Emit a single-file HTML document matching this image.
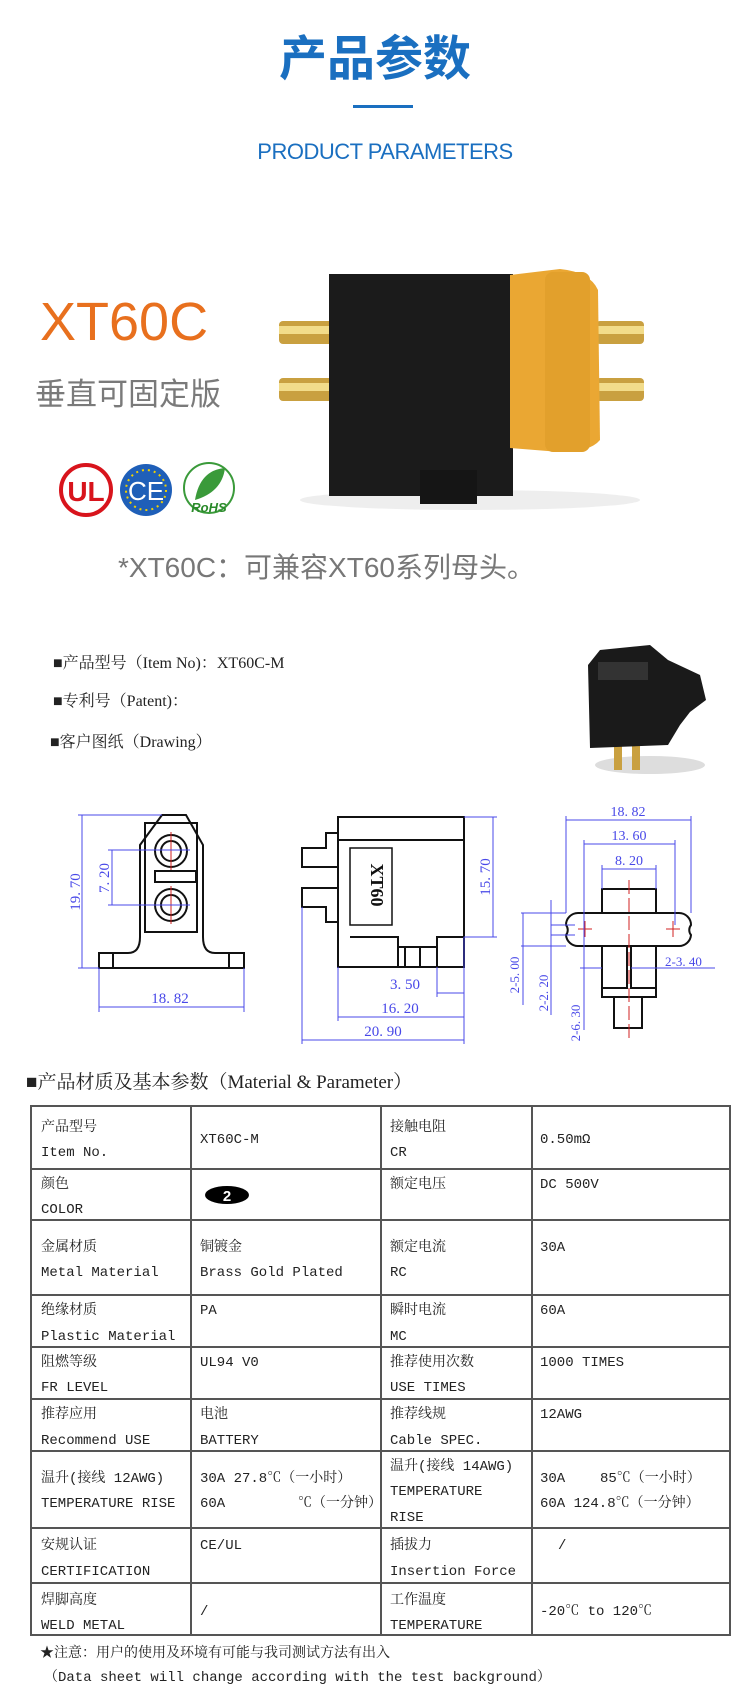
<!DOCTYPE html>
<html><head><meta charset="utf-8">
<style>
html,body{margin:0;padding:0;background:#fff;}
body{width:750px;height:1700px;position:relative;overflow:hidden;}
.a{position:absolute;white-space:nowrap;}
</style></head><body>
<div class="a" style="left:0;width:750px;top:24px;text-align:center;font:bold 48px 'Noto Sans CJK SC',sans-serif;color:#1a6fc0;line-height:60px;">产品参数</div>
<div class="a" style="left:353px;top:105px;width:60px;height:3px;background:#1a6fc0;"></div>
<div class="a" style="left:257px;top:138px;width:256px;text-align:center;font:22px 'Liberation Sans',sans-serif;color:#1a6fc0;line-height:28px;letter-spacing:-0.5px;">PRODUCT PARAMETERS</div>
<div class="a" style="left:40px;top:290px;font:54px 'Liberation Sans',sans-serif;color:#e8701e;line-height:64px;">XT60C</div>
<div class="a" style="left:35px;top:372px;font:31px 'Noto Sans CJK SC',sans-serif;color:#7a7a7a;line-height:40px;">垂直可固定版</div>
<div class="a" style="left:118px;top:550px;font:28px 'Liberation Sans','Noto Sans CJK SC',sans-serif;color:#777;line-height:36px;">*XT60C：可兼容XT60系列母头。</div>

<svg class="a" style="left:0;top:0" width="750" height="1700" xmlns="http://www.w3.org/2000/svg">
<!-- logos -->
<circle cx="86" cy="490" r="25" fill="#fff" stroke="#d8141c" stroke-width="4"/>
<text x="86" y="501" font-family="Liberation Sans" font-weight="bold" font-size="28" fill="#d8141c" text-anchor="middle">UL</text>
<circle cx="146" cy="490" r="26" fill="#1f5fb8"/>
<circle cx="146" cy="490" r="20" fill="none" stroke="#f0d000" stroke-width="2" stroke-dasharray="2 4"/>
<text x="146" y="500" font-family="Liberation Sans" font-size="26" fill="#fff" text-anchor="middle">CE</text>
<circle cx="209" cy="488" r="25" fill="#fff" stroke="#3a9a3a" stroke-width="2"/>
<path d="M195 500 Q200 470 225 468 Q222 492 195 500Z" fill="#3a9a3a"/>
<text x="209" y="512" font-family="Liberation Sans" font-weight="bold" font-style="italic" font-size="13" fill="#2a8a2a" text-anchor="middle">RoHS</text>
<!-- product photo -->
<ellipse cx="470" cy="500" rx="170" ry="10" fill="#eee"/>
<rect x="279" y="321" width="55" height="23" rx="4" fill="#c9a040"/>
<rect x="279" y="326" width="55" height="8" fill="#f2dc8a"/>
<rect x="279" y="378" width="55" height="23" rx="4" fill="#c9a040"/>
<rect x="279" y="383" width="55" height="8" fill="#f2dc8a"/>
<rect x="596" y="321" width="48" height="23" rx="4" fill="#c9a040"/>
<rect x="596" y="326" width="48" height="8" fill="#f2dc8a"/>
<rect x="596" y="378" width="48" height="23" rx="4" fill="#c9a040"/>
<rect x="596" y="383" width="48" height="8" fill="#f2dc8a"/>
<rect x="329" y="274" width="184" height="222" fill="#1b1b1b"/>
<rect x="420" y="470" width="57" height="34" fill="#151515"/>
<path d="M510 275 L560 269 Q590 272 598 290 L600 440 Q590 452 560 452 L510 448Z" fill="#eaa733"/>
<rect x="545" y="272" width="45" height="180" rx="8" fill="#e2a02c"/>
<!-- item lines -->
</svg>

<div class="a" style="left:53px;top:652px;font:16px 'Liberation Serif','Noto Serif CJK SC',serif;color:#222;line-height:24px;">■产品型号（Item No)：XT60C-M</div>
<div class="a" style="left:53px;top:690px;font:16px 'Liberation Serif','Noto Serif CJK SC',serif;color:#222;line-height:24px;">■专利号（Patent)：</div>
<div class="a" style="left:50px;top:731px;font:16px 'Liberation Serif','Noto Serif CJK SC',serif;color:#222;line-height:24px;">■客户图纸（Drawing）</div>

<svg class="a" style="left:0;top:0" width="750" height="1700" xmlns="http://www.w3.org/2000/svg">
<!-- small connector -->
<ellipse cx="650" cy="765" rx="55" ry="9" fill="#ddd"/>
<rect x="614" y="745" width="8" height="25" fill="#c9a040"/>
<rect x="632" y="745" width="8" height="25" fill="#c9a040"/>
<path d="M588 665 L600 650 L650 645 L668 660 L700 675 L706 700 L690 712 L680 725 L668 745 L590 748Z" fill="#1a1a1a"/>
<rect x="598" y="662" width="50" height="18" fill="#333"/>

<!-- drawing black -->
<g fill="none" stroke="#111" stroke-width="2">
<path d="M140 937 L140 845 L162 815 L186 815 L203 845 L203 937 Q203 953 215 953 L244 953 L244 968 L99 968 L99 953 L128 953 Q140 953 140 937Z"/>
<rect x="145" y="823" width="52" height="109"/>
<line x1="113" y1="953" x2="113" y2="968"/><line x1="229" y1="953" x2="229" y2="968"/>
<circle cx="171" cy="851" r="16"/><circle cx="171" cy="851" r="10"/>
<circle cx="171" cy="905" r="16"/><circle cx="171" cy="905" r="10"/>
<rect x="155" y="871" width="41" height="11"/>
<!-- middle -->
<rect x="338" y="817" width="126" height="150"/>
<line x1="338" y1="840" x2="464" y2="840"/>
<path d="M338 833 L326 833 L326 848 L302 848 L302 867 L338 867"/>
<path d="M338 888 L302 888 L302 907 L326 907 L326 922 L338 922"/>
<rect x="350" y="848" width="42" height="77" stroke-width="1.5"/>
<path d="M350 937 L398 937 L398 967 M398 947 L437 947 L437 937 L464 937 M405 947 L405 967 M420 947 L420 967 M437 947 L437 967"/>
<!-- right -->
<rect x="602" y="889" width="54" height="24"/>
<path d="M578 913 L679 913 A12 12 0 0 1 691 925 A8 8 0 0 0 691 935 A12 12 0 0 1 679 946 L578 946 A12 12 0 0 1 566 935 A8 8 0 0 0 566 925 A12 12 0 0 1 578 913Z"/>
<path d="M602 946 L602 997 L656 997 L656 946 M627 946 L627 988 L602 988 M631 946 L631 988 L656 988"/>
<rect x="614" y="997" width="28" height="31"/>
</g>
<g fill="#111" font-family="Liberation Serif" font-size="11">
<text x="371" y="885" transform="rotate(90 371 885)" text-anchor="middle" font-weight="bold" font-size="18">XT60</text>
</g>
<g stroke="#d02020" stroke-width="1" fill="none">
<line x1="171" y1="832" x2="171" y2="870"/><line x1="171" y1="886" x2="171" y2="924"/>
<line x1="629" y1="880" x2="629" y2="1040" stroke-dasharray="14 4"/>
<line x1="578" y1="929" x2="592" y2="929"/><line x1="585" y1="921" x2="585" y2="937"/>
<line x1="666" y1="929" x2="680" y2="929"/><line x1="673" y1="921" x2="673" y2="937"/>
</g>
<!-- dims blue -->
<g stroke="#4848e8" stroke-width="1" fill="none">
<line x1="82" y1="815" x2="82" y2="968"/><line x1="78" y1="815" x2="162" y2="815"/><line x1="78" y1="968" x2="99" y2="968"/>
<line x1="112" y1="850" x2="112" y2="905"/><line x1="108" y1="850" x2="190" y2="850"/><line x1="108" y1="905" x2="190" y2="905"/>
<line x1="99" y1="1007" x2="244" y2="1007"/><line x1="99" y1="968" x2="99" y2="1012"/><line x1="244" y1="968" x2="244" y2="1012"/>
<line x1="493" y1="817" x2="493" y2="937"/><line x1="464" y1="817" x2="497" y2="817"/><line x1="464" y1="937" x2="497" y2="937"/>
<line x1="437" y1="993" x2="464" y2="993"/><line x1="437" y1="967" x2="437" y2="997"/>
<line x1="338" y1="1017" x2="464" y2="1017"/><line x1="338" y1="967" x2="338" y2="1021"/>
<line x1="302" y1="1040" x2="464" y2="1040"/><line x1="302" y1="907" x2="302" y2="1044"/><line x1="464" y1="937" x2="464" y2="1044"/>
<line x1="566" y1="820" x2="691" y2="820"/><line x1="566" y1="816" x2="566" y2="913"/><line x1="691" y1="816" x2="691" y2="913"/>
<line x1="584" y1="844" x2="675" y2="844"/><line x1="584" y1="840" x2="584" y2="1030"/><line x1="675" y1="840" x2="675" y2="925"/>
<line x1="602" y1="869" x2="656" y2="869"/><line x1="602" y1="865" x2="602" y2="889"/><line x1="656" y1="865" x2="656" y2="889"/>
<line x1="521" y1="913" x2="566" y2="913"/><line x1="521" y1="946" x2="566" y2="946"/><line x1="523" y1="913" x2="523" y2="1005"/>
<line x1="551" y1="925" x2="575" y2="925"/><line x1="551" y1="935" x2="575" y2="935"/><line x1="551" y1="900" x2="551" y2="1015"/>
<line x1="580" y1="968" x2="602" y2="968"/><line x1="631" y1="968" x2="715" y2="968"/>
</g>
<g fill="#4848e8" font-family="Liberation Serif" font-size="15">
<text x="80" y="892" transform="rotate(-90 80 892)" text-anchor="middle">19. 70</text>
<text x="109" y="878" transform="rotate(-90 109 878)" text-anchor="middle">7. 20</text>
<text x="170" y="1003" text-anchor="middle">18. 82</text>
<text x="490" y="877" transform="rotate(-90 490 877)" text-anchor="middle">15. 70</text>
<text x="405" y="989" text-anchor="middle">3. 50</text>
<text x="400" y="1013" text-anchor="middle">16. 20</text>
<text x="383" y="1036" text-anchor="middle">20. 90</text>
<text x="628" y="816" text-anchor="middle" font-size="14">18. 82</text>
<text x="629" y="840" text-anchor="middle" font-size="14">13. 60</text>
<text x="629" y="865" text-anchor="middle" font-size="14">8. 20</text>
<text x="519" y="975" transform="rotate(-90 519 975)" text-anchor="middle" font-size="13">2-5. 00</text>
<text x="548" y="993" transform="rotate(-90 548 993)" text-anchor="middle" font-size="13">2-2. 20</text>
<text x="580" y="1023" transform="rotate(-90 580 1023)" text-anchor="middle" font-size="13">2-6. 30</text>
<text x="665" y="966" font-size="13">2-3. 40</text>
</g>

<!-- table -->
<text x="26" y="1088" font-family="Liberation Serif, Noto Serif CJK SC" font-size="19" fill="#222">■产品材质及基本参数（Material &amp; Parameter）</text>
<g stroke="#555" stroke-width="2" fill="none">
<rect x="31" y="1106" width="699" height="529"/>
<line x1="191" y1="1106" x2="191" y2="1635"/><line x1="381" y1="1106" x2="381" y2="1635"/><line x1="532" y1="1106" x2="532" y2="1635"/>
<line x1="31" y1="1169" x2="730" y2="1169"/><line x1="31" y1="1220" x2="730" y2="1220"/><line x1="31" y1="1295" x2="730" y2="1295"/>
<line x1="31" y1="1347" x2="730" y2="1347"/><line x1="31" y1="1399" x2="730" y2="1399"/><line x1="31" y1="1451" x2="730" y2="1451"/>
<line x1="31" y1="1528" x2="730" y2="1528"/><line x1="31" y1="1583" x2="730" y2="1583"/>
</g>
<ellipse cx="227" cy="1195" rx="22" ry="9" fill="#000"/>
<text x="227" y="1201" font-family="Liberation Sans" font-weight="bold" font-size="15" fill="#fff" text-anchor="middle">2</text>
<g font-family="Liberation Mono, Noto Serif CJK SC, monospace" font-size="14" fill="#222">
<text x="41" y="1131">产品型号</text><text x="41" y="1156">Item No.</text>
<text x="200" y="1143">XT60C-M</text>
<text x="390" y="1131">接触电阻</text><text x="390" y="1156">CR</text>
<text x="540" y="1143">0.50mΩ</text>
<text x="41" y="1188">颜色</text><text x="41" y="1213">COLOR</text>
<text x="390" y="1188">额定电压</text><text x="540" y="1188">DC 500V</text>
<text x="41" y="1251">金属材质</text><text x="41" y="1276">Metal Material</text>
<text x="200" y="1251">铜镀金</text><text x="200" y="1276">Brass Gold Plated</text>
<text x="390" y="1251">额定电流</text><text x="390" y="1276">RC</text><text x="540" y="1251">30A</text>
<text x="41" y="1314">绝缘材质</text><text x="41" y="1340">Plastic Material</text>
<text x="200" y="1314">PA</text>
<text x="390" y="1314">瞬时电流</text><text x="390" y="1340">MC</text><text x="540" y="1314">60A</text>
<text x="41" y="1366">阻燃等级</text><text x="41" y="1391">FR LEVEL</text>
<text x="200" y="1366">UL94 V0</text>
<text x="390" y="1366">推荐使用次数</text><text x="390" y="1391">USE TIMES</text><text x="540" y="1366">1000 TIMES</text>
<text x="41" y="1418">推荐应用</text><text x="41" y="1444">Recommend USE</text>
<text x="200" y="1418">电池</text><text x="200" y="1444">BATTERY</text>
<text x="390" y="1418">推荐线规</text><text x="390" y="1444">Cable SPEC.</text><text x="540" y="1418">12AWG</text>
<text x="41" y="1482">温升(接线 12AWG)</text><text x="41" y="1507">TEMPERATURE RISE</text>
<text x="200" y="1482">30A 27.8℃（一小时）</text><text x="200" y="1507">60A</text><text x="298" y="1507">℃（一分钟）</text>
<text x="390" y="1470">温升(接线 14AWG)</text><text x="390" y="1495">TEMPERATURE</text><text x="390" y="1521">RISE</text>
<text x="540" y="1482">30A</text><text x="600" y="1482">85℃（一小时）</text><text x="540" y="1507">60A 124.8℃（一分钟）</text>
<text x="41" y="1549">安规认证</text><text x="41" y="1575">CERTIFICATION</text>
<text x="200" y="1549">CE/UL</text>
<text x="390" y="1549">插拔力</text><text x="390" y="1575">Insertion Force</text><text x="558" y="1549">/</text>
<text x="41" y="1604">焊脚高度</text><text x="41" y="1629">WELD METAL</text>
<text x="200" y="1615">/</text>
<text x="390" y="1604">工作温度</text><text x="390" y="1629">TEMPERATURE</text>
<text x="540" y="1615">-20℃ to 120℃</text>
<text x="40" y="1657">★注意：用户的使用及环境有可能与我司测试方法有出入</text>
<text x="44" y="1681">（Data sheet will change according with the test background）</text>
</g>
</svg>
</body></html>
